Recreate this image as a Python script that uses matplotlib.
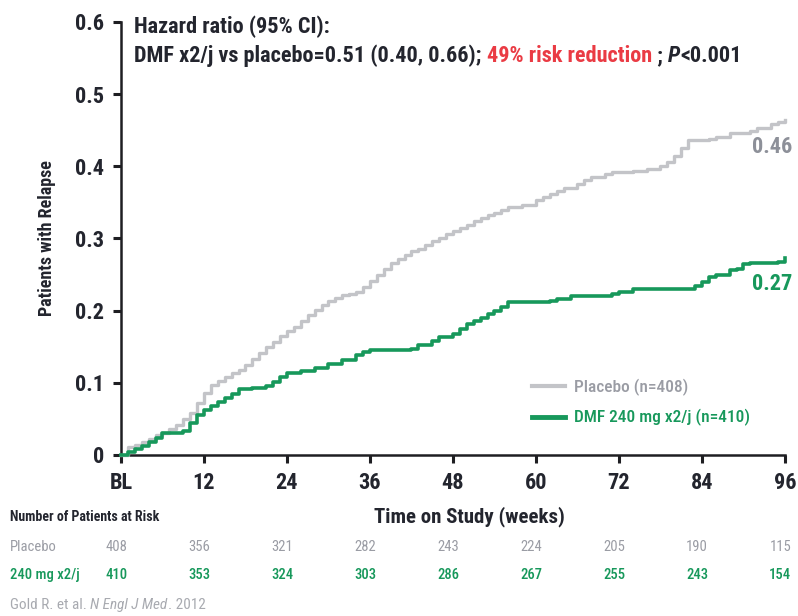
import matplotlib
matplotlib.use("Agg")
import matplotlib.pyplot as plt

plt.rcParams['font.family'] = ['Roboto Condensed', 'DejaVu Sans']

# Kaplan-Meier style cumulative relapse proportions (step curves)
placebo_weeks = [0, 1, 2, 3, 4, 5, 6, 7, 8, 9, 10, 11, 12, 13, 14, 15, 16, 17, 18, 19,
                 20, 21, 22, 23, 24, 25, 26, 27, 28, 29, 30, 31, 32, 33, 34, 35, 36, 37,
                 38, 39, 40, 41, 42, 43, 44, 45, 46, 47, 48, 49, 50, 51, 52, 53, 54, 55,
                 56, 58, 60, 61, 62, 63, 64, 66, 67, 68, 70, 71, 74, 76, 78, 79, 80, 81,
                 82, 85, 86, 88, 91, 92, 94, 95, 96]
placebo_relapse = [0.000, 0.011, 0.014, 0.018, 0.022, 0.027, 0.031, 0.036, 0.042, 0.050,
                   0.058, 0.072, 0.086, 0.097, 0.103, 0.108, 0.113, 0.118, 0.125, 0.133,
                   0.141, 0.149, 0.157, 0.165, 0.172, 0.178, 0.186, 0.194, 0.201, 0.208,
                   0.214, 0.218, 0.221, 0.223, 0.226, 0.233, 0.241, 0.249, 0.258, 0.266,
                   0.272, 0.277, 0.282, 0.286, 0.291, 0.296, 0.301, 0.306, 0.311, 0.315,
                   0.319, 0.324, 0.328, 0.332, 0.336, 0.340, 0.343, 0.347, 0.353, 0.357,
                   0.362, 0.366, 0.370, 0.376, 0.381, 0.385, 0.389, 0.392, 0.394, 0.396,
                   0.401, 0.406, 0.414, 0.425, 0.436, 0.438, 0.441, 0.446, 0.449, 0.453,
                   0.458, 0.462, 0.464]

dmf_weeks = [0, 1, 2, 3, 4, 5, 6, 9, 10, 11, 12, 13, 14, 15, 16, 17, 19, 21, 22, 23, 24,
             26, 28, 30, 32, 34, 35, 36, 42, 43, 45, 46, 48, 49, 50, 51, 52, 53, 54, 55,
             56, 62, 63, 65, 71, 72, 74, 83, 84, 85, 86, 88, 89, 90, 91, 95, 96]
dmf_relapse = [0.000, 0.004, 0.008, 0.012, 0.018, 0.024, 0.030, 0.033, 0.044, 0.055,
               0.062, 0.068, 0.073, 0.079, 0.085, 0.091, 0.093, 0.095, 0.101, 0.108,
               0.113, 0.116, 0.120, 0.126, 0.132, 0.138, 0.143, 0.146, 0.147, 0.152,
               0.158, 0.163, 0.168, 0.174, 0.182, 0.186, 0.190, 0.195, 0.199, 0.205,
               0.212, 0.214, 0.216, 0.220, 0.223, 0.226, 0.230, 0.234, 0.240, 0.247,
               0.249, 0.256, 0.258, 0.264, 0.266, 0.268, 0.273]

tick_weeks = [0, 12, 24, 36, 48, 60, 72, 84, 96]
tick_labels = ['BL', '12', '24', '36', '48', '60', '72', '84', '96']
y_ticks = [0, 0.1, 0.2, 0.3, 0.4, 0.5, 0.6]
y_labels = ['0', '0.1', '0.2', '0.3', '0.4', '0.5', '0.6']

risk_placebo = [408, 356, 321, 282, 243, 224, 205, 190, 115]
risk_dmf = [410, 353, 324, 303, 286, 267, 255, 243, 154]

end_placebo = 0.46
end_dmf = 0.27

GRAY_LINE = '#c3c4c8'
GRAY_TEXT = '#9a9ca4'
GREEN = '#17985b'
DARK = '#23252e'
RED = '#ea3b44'

fig = plt.figure(figsize=(7.98, 6.16), dpi=100)
ax = fig.add_axes([0.1516, 0.2614, 0.8321, 0.7029])

ax.plot(placebo_weeks, placebo_relapse, drawstyle='steps-post', color=GRAY_LINE,
        lw=2.4, label='Placebo (n=408)', clip_on=False, zorder=3)
ax.plot(dmf_weeks, dmf_relapse, drawstyle='steps-post', color=GREEN,
        lw=2.6, label='DMF 240 mg x2/j (n=410)', clip_on=False, zorder=4)

ax.set_xlim(0, 96)
ax.set_ylim(0, 0.6)
for s in ['top', 'right']:
    ax.spines[s].set_visible(False)
for s in ['left', 'bottom']:
    ax.spines[s].set_linewidth(1.8)
    ax.spines[s].set_color('#1e1e22')

ax.set_xticks(tick_weeks)
ax.set_xticklabels(tick_labels)
ax.set_yticks(y_ticks)
ax.set_yticklabels(y_labels)
ax.tick_params(axis='both', direction='out', length=6, width=2.2, color='#1e1e22',
               labelsize=16, labelcolor=DARK)
ax.tick_params(axis='x', pad=6)
ax.tick_params(axis='y', pad=6)
for lab in ax.get_xticklabels() + ax.get_yticklabels():
    lab.set_fontweight('bold')

ax.set_ylabel('Patients with Relapse', fontsize=13, fontweight='bold', color=DARK,
              labelpad=14)

# end-of-study values
ax.text(97, end_placebo - 0.018, f'{end_placebo:.2f}', ha='right', va='top',
        fontsize=16, fontweight='bold', color='#8d9099')
ax.text(97, end_dmf - 0.018, f'{end_dmf:.2f}', ha='right', va='top',
        fontsize=16, fontweight='bold', color=GREEN)

# hazard ratio header
hdr = dict(fontsize=16, fontweight='bold', color=DARK)
ax.text(0.02, 0.99, 'Hazard ratio (95% CI):', transform=ax.transAxes,
        ha='left', va='center', **hdr)
t1 = ax.text(0.02, 0.922, 'DMF x2/j vs placebo=0.51 (0.40, 0.66); ',
             transform=ax.transAxes, ha='left', va='center', **hdr)
t2 = ax.annotate('49% risk reduction', xy=(1, 0), xycoords=t1, ha='left', va='bottom',
                 fontsize=16, fontweight='bold', color=RED)
t3 = ax.annotate(' ; ', xy=(1, 0), xycoords=t2, ha='left', va='bottom', **hdr)
t4 = ax.annotate('P', xy=(1, 0), xycoords=t3, ha='left', va='bottom',
                 fontstyle='italic', **hdr)
ax.annotate('<0.001', xy=(1, 0), xycoords=t4, ha='left', va='bottom', **hdr)

leg = ax.legend(loc='lower left', bbox_to_anchor=(0.595, 0.03), frameon=False,
                handlelength=1.9, handletextpad=0.55, labelspacing=0.75,
                prop=dict(size=12.5, weight='medium'))
for txt, col in zip(leg.get_texts(), [GRAY_TEXT, GREEN]):
    txt.set_color(col)
leg.get_lines()[0].set_linewidth(3)
leg.get_lines()[1].set_linewidth(3.5)

# axis title and number-at-risk table
fig.text(469 / 798, 1 - 517 / 616, 'Time on Study (weeks)', ha='center', va='center',
         fontsize=15, fontweight='bold', color=DARK)
fig.text(10 / 798, 1 - 517 / 616, 'Number of Patients at Risk', ha='left', va='center',
         fontsize=10, fontweight='bold', color=DARK)

row_y = [1 - 547 / 616, 1 - 575 / 616]
fig.text(10 / 798, row_y[0], 'Placebo', ha='left', va='center', fontsize=10.5,
         color=GRAY_TEXT)
fig.text(10 / 798, row_y[1], '240 mg x2/j', ha='left', va='center', fontsize=10.5,
         color=GREEN, fontweight='medium')
for wk, n_p, n_d in zip(tick_weeks, risk_placebo, risk_dmf):
    x_fig = fig.transFigure.inverted().transform(ax.transData.transform((wk, 0)))[0]
    fig.text(x_fig - 0.006, row_y[0], str(n_p), ha='center', va='center',
             fontsize=10.5, color=GRAY_TEXT)
    fig.text(x_fig - 0.006, row_y[1], str(n_d), ha='center', va='center',
             fontsize=10.5, color=GREEN, fontweight='medium')

src_kw = dict(fontsize=11, color='#a8aab0', ha='left', va='bottom')
src = fig.text(10 / 798, 1 - 612 / 616, 'Gold R. et al. ', **src_kw)
src2 = fig.text(0, 0, 'N Engl J Med', fontstyle='italic', **src_kw)
fig.canvas.draw()
r = fig.canvas.get_renderer()
bb = src.get_window_extent(r)
src2.set_position(fig.transFigure.inverted().transform((bb.x1, bb.y0)))
bb2 = src2.get_window_extent(r)
fig.text(*fig.transFigure.inverted().transform((bb2.x1, bb.y0)), '. 2012', **src_kw)

fig.savefig('out.png', dpi=100)
